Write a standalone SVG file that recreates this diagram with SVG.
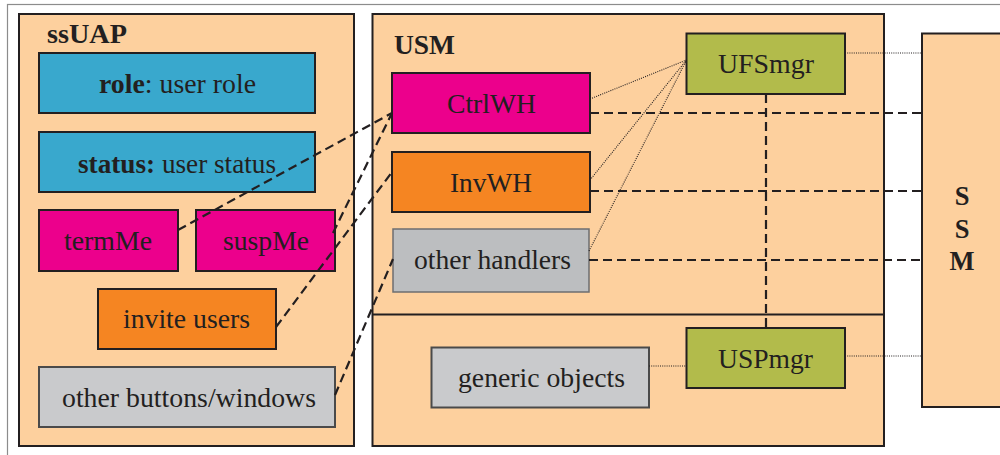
<svg xmlns="http://www.w3.org/2000/svg" width="1000" height="455" viewBox="0 0 1000 455">
<style>
text{font-family:"Liberation Serif","Times New Roman",serif;font-size:26.5px;fill:#231f20}
.b{font-weight:bold}
.frame{fill:#fdd09e;stroke:#231f20;stroke-width:2}
.box{stroke:#231f20;stroke-width:2}
.blue{fill:#39a8cd}
.mag{fill:#ec008c}
.org{fill:#f58522}
.gry{fill:#c9cacc;stroke:#4a4a4a}
.gry2{fill:#bcbec0;stroke:#6d6e70;stroke-width:1.5}
.olv{fill:#b2bb4b}
.dash{fill:none;stroke:#231f20;stroke-width:2.2;stroke-dasharray:9,5}
.dot{fill:none;stroke:#231f20;stroke-width:1.1;stroke-dasharray:1,1.2}
</style>
<rect x="0" y="0" width="1000" height="455" fill="#ffffff"/>
<rect x="7.5" y="4.5" width="1000" height="460" fill="#ffffff" stroke="#8c8c8c" stroke-width="1.2"/>

<g id="ssUAP">
<rect class="frame" x="19" y="14" width="335" height="432"/>
<text class="b" x="47" y="43" textLength="80" lengthAdjust="spacingAndGlyphs">ssUAP</text>
</g>
<g id="role">
<rect class="box blue" x="39" y="53" width="276" height="60"/>
<text x="99" y="93" textLength="157" lengthAdjust="spacingAndGlyphs"><tspan class="b">role</tspan>: user role</text>
</g>
<g id="status">
<rect class="box blue" x="39" y="132" width="276" height="60"/>
<text x="78" y="172.5" textLength="198" lengthAdjust="spacingAndGlyphs"><tspan class="b">status:</tspan> user status</text>
</g>
<g id="termMe">
<rect class="box mag" x="39" y="210" width="139" height="61"/>
<text x="64" y="250" textLength="88" lengthAdjust="spacingAndGlyphs">termMe</text>
</g>
<g id="suspMe">
<rect class="box mag" x="196" y="210" width="139" height="61"/>
<text x="223" y="249.5" textLength="86" lengthAdjust="spacingAndGlyphs">suspMe</text>
</g>
<g id="invite">
<rect class="box org" x="98" y="289" width="178" height="60"/>
<text x="123" y="328" textLength="127" lengthAdjust="spacingAndGlyphs">invite users</text>
</g>
<g id="otherButtons">
<rect class="box gry" x="39" y="367" width="296" height="60"/>
<text x="62" y="407" textLength="254" lengthAdjust="spacingAndGlyphs">other buttons/windows</text>
</g>

<g id="USM">
<rect class="frame" x="372.5" y="14" width="511.5" height="432"/>
<line x1="372.5" y1="314.5" x2="884" y2="314.5" stroke="#231f20" stroke-width="2.2"/>
<text class="b" x="394" y="54" textLength="61" lengthAdjust="spacingAndGlyphs">USM</text>
</g>
<g id="CtrlWH">
<rect class="box mag" x="392" y="73" width="198" height="60"/>
<text x="447" y="113" textLength="89" lengthAdjust="spacingAndGlyphs">CtrlWH</text>
</g>
<g id="InvWH">
<rect class="box org" x="392" y="152" width="198" height="60"/>
<text x="450" y="191.7" textLength="82" lengthAdjust="spacingAndGlyphs">InvWH</text>
</g>
<g id="otherHandlers">
<rect class="box gry2" x="393" y="229" width="196" height="63"/>
<text x="414" y="269" textLength="157" lengthAdjust="spacingAndGlyphs">other handlers</text>
</g>
<g id="UFSmgr">
<rect class="box olv" x="686.5" y="33.5" width="158.5" height="60.5"/>
<text x="718" y="73" textLength="96" lengthAdjust="spacingAndGlyphs">UFSmgr</text>
</g>
<g id="USPmgr">
<rect class="box olv" x="686.5" y="328" width="158.5" height="60"/>
<text x="718" y="368" textLength="95" lengthAdjust="spacingAndGlyphs">USPmgr</text>
</g>
<g id="genericObjects">
<rect class="box gry" x="431.5" y="347.5" width="217.5" height="60"/>
<text x="458" y="386.7" textLength="167" lengthAdjust="spacingAndGlyphs">generic objects</text>
</g>

<g id="SSM">
<rect class="frame" x="922" y="33.5" width="90" height="373.5"/>
<text class="b" x="962" y="205" text-anchor="middle">S</text>
<text class="b" x="962" y="238" text-anchor="middle">S</text>
<text class="b" x="962" y="270" text-anchor="middle">M</text>
</g>

<g id="connectors">
<line class="dash" x1="178" y1="230" x2="392" y2="113"/>
<line class="dash" x1="333" y1="233" x2="392" y2="113"/>
<line class="dash" x1="276" y1="327" x2="392" y2="172"/>
<line class="dash" x1="335" y1="395" x2="393" y2="259"/>
<line class="dash" x1="590" y1="113" x2="922" y2="113"/>
<line class="dash" x1="590" y1="191" x2="922" y2="191"/>
<line class="dash" x1="589" y1="260" x2="922" y2="260"/>
<line class="dash" x1="766" y1="94" x2="766" y2="328"/>
<line class="dot" x1="590" y1="99" x2="686.5" y2="60"/>
<line class="dot" x1="590" y1="180" x2="686.5" y2="60"/>
<line class="dot" x1="589" y1="251" x2="686.5" y2="60"/>
<line class="dot" x1="845" y1="53" x2="922" y2="53"/>
<line class="dot" x1="845" y1="356" x2="922" y2="356"/>
<line class="dot" x1="649" y1="366" x2="686.5" y2="366"/>
</g>
</svg>
